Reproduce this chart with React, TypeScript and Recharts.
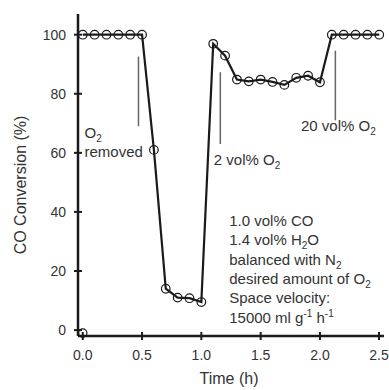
import React from "react";
import {
  ComposedChart,
  Line,
  Scatter,
  XAxis,
  YAxis,
  ReferenceLine,
  ReferenceDot,
} from "recharts";

const times = [
  0, 0.1, 0.2, 0.3, 0.4, 0.5, 0.6, 0.7, 0.8, 0.9, 1.0, 1.1, 1.2, 1.3, 1.4, 1.5,
  1.6, 1.7, 1.8, 1.9, 2.0, 2.1, 2.2, 2.3, 2.4, 2.5,
];
const conversion = [
  100, 100, 100, 100, 100, 100, 61, 14, 11, 10.8, 9.5, 96.9, 92.9, 84.8, 84.2,
  84.8, 84, 83, 85.4, 86.1, 83.9, 100, 100, 100, 100, 100,
];
const strayPoint = [{ t: 0, v: -1 }];
const xTicks = [0, 0.5, 1.0, 1.5, 2.0, 2.5];
const yTicks = [0, 20, 40, 60, 80, 100];

// gray marker lines: [time, yTop, yBottom]
const markers: [number, number, number][] = [
  [0.47, 92.6, 69],
  [1.16, 87.3, 63],
  [2.13, 94.6, 71],
];

// text pieces: "_x" = subscript, "^x" = superscript
const conditionLines = [
  ["1.0 vol% CO"],
  ["1.4 vol% H", "_2", "O"],
  ["balanced with N", "_2"],
  ["desired amount of O", "_2"],
  ["Space velocity:"],
  ["15000 ml g", "^-1", " h", "^-1"],
];

const data = times.map((t, i) => ({ t, v: conversion[i] }));

const FONT = "Liberation Sans, Arial, sans-serif";
const INK = "#1a1a1a";

function YTick(props: any) {
  const { x, y, payload } = props;
  const axisX = x + 12;
  return (
    <g>
      <line x1={axisX - 4} x2={axisX + 4} y1={y} y2={y} stroke={INK} strokeWidth={2} />
      <text x={x} y={y} dy="0.35em" textAnchor="end" fontSize={14} fill="#333" fontFamily={FONT}>
        {payload.value}
      </text>
    </g>
  );
}

function XTick(props: any) {
  const { x, y, payload } = props;
  const axisY = y - 14;
  return (
    <g>
      <line x1={x} x2={x} y1={axisY - 4} y2={axisY + 4} stroke={INK} strokeWidth={2} />
      <text x={x} y={y} dy="0.71em" textAnchor="middle" fontSize={14} fill="#333" fontFamily={FONT}>
        {Number(payload.value).toFixed(1)}
      </text>
    </g>
  );
}

function Note({ cx, cy, lines }: { cx: number; cy: number; lines: string[][] }) {
  return (
    <g fontSize={15} fill="#333" fontFamily={FONT}>
      {lines.map((parts, i) => {
        let shift = 0;
        return (
          <text key={i} x={cx} y={cy + i * 19.3}>
            {parts.map((p, j) => {
              let target = 0;
              let text = p;
              let size: number | undefined;
              if (p[0] === "_") {
                target = 4;
                text = p.slice(1);
                size = 10;
              } else if (p[0] === "^") {
                target = -6;
                text = p.slice(1);
                size = 10;
              }
              const dy = target - shift;
              shift = target;
              return (
                <tspan key={j} dy={dy} fontSize={size}>
                  {text}
                </tspan>
              );
            })}
          </text>
        );
      })}
    </g>
  );
}

export default function App() {
  return (
    <div style={{ position: "absolute", left: 0, top: 0, background: "#fff" }}>
      <ComposedChart
        width={389}
        height={390}
        data={data}
        margin={{ top: 14, right: 5, left: 0, bottom: 0 }}
      >
        <XAxis
          dataKey="t"
          type="number"
          domain={[-0.04, 2.54]}
          ticks={xTicks}
          tick={<XTick />}
          tickLine={false}
          tickSize={4}
          tickMargin={10}
          axisLine={{ stroke: INK, strokeWidth: 2.5 }}
          height={54}
          label={{
            content: ({ viewBox }: any) => (
              <text
                x={viewBox.x + viewBox.width / 2 - 2}
                y={384}
                textAnchor="middle"
                fontSize={16}
                fill="#333"
                fontFamily={FONT}
              >
                Time (h)
              </text>
            ),
          }}
        />
        <XAxis
          xAxisId="top"
          orientation="top"
          dataKey="t"
          type="number"
          domain={[-0.04, 2.54]}
          tick={false}
          tickLine={false}
          height={0}
          axisLine={{ stroke: INK, strokeWidth: 2.5 }}
        />
        <YAxis
          type="number"
          domain={[-2, 107]}
          ticks={yTicks}
          tick={<YTick />}
          tickLine={false}
          tickSize={4}
          tickMargin={8}
          width={78}
          axisLine={{ stroke: INK, strokeWidth: 2.5 }}
          label={{
            content: ({ viewBox }: any) => {
              const cy = viewBox.y + viewBox.height / 2 + 10;
              return (
                <text
                  x={26}
                  y={cy}
                  transform={`rotate(-90, 26, ${cy})`}
                  textAnchor="middle"
                  fontSize={16}
                  fill="#333"
                  fontFamily={FONT}
                >
                  CO Conversion (%)
                </text>
              );
            },
          }}
        />
        <YAxis
          yAxisId="right"
          orientation="right"
          type="number"
          domain={[-2, 107]}
          tick={false}
          tickLine={false}
          width={0}
          axisLine={{ stroke: INK, strokeWidth: 2.5 }}
        />
        {markers.map(([t, y1, y2], i) => (
          <ReferenceLine
            key={i}
            segment={[
              { x: t, y: y1 },
              { x: t, y: y2 },
            ]}
            stroke="#666"
            strokeWidth={1.5}
          />
        ))}
        <Scatter
          data={strayPoint}
          dataKey="v"
          isAnimationActive={false}
          shape={(p: any) => (
            <circle cx={p.cx} cy={p.cy} r={4.2} fill="none" stroke={INK} strokeWidth={1.2} />
          )}
        />
        <Line
          dataKey="v"
          stroke={INK}
          strokeWidth={2.2}
          isAnimationActive={false}
          dot={{ r: 4.3, fill: "none", stroke: INK, strokeWidth: 1.2 }}
        />
        <ReferenceDot
          x={0.015}
          y={65}
          r={0}
          shape={(p: any) => <Note cx={p.cx} cy={p.cy} lines={[["O", "_2"], ["removed"]]} />}
        />
        <ReferenceDot
          x={1.105}
          y={56}
          r={0}
          shape={(p: any) => <Note cx={p.cx} cy={p.cy} lines={[["2 vol% O", "_2"]]} />}
        />
        <ReferenceDot
          x={1.84}
          y={67.5}
          r={0}
          shape={(p: any) => <Note cx={p.cx} cy={p.cy} lines={[["20 vol% O", "_2"]]} />}
        />
        <ReferenceDot
          x={1.235}
          y={35.2}
          r={0}
          shape={(p: any) => <Note cx={p.cx} cy={p.cy} lines={conditionLines} />}
        />
      </ComposedChart>
    </div>
  );
}
